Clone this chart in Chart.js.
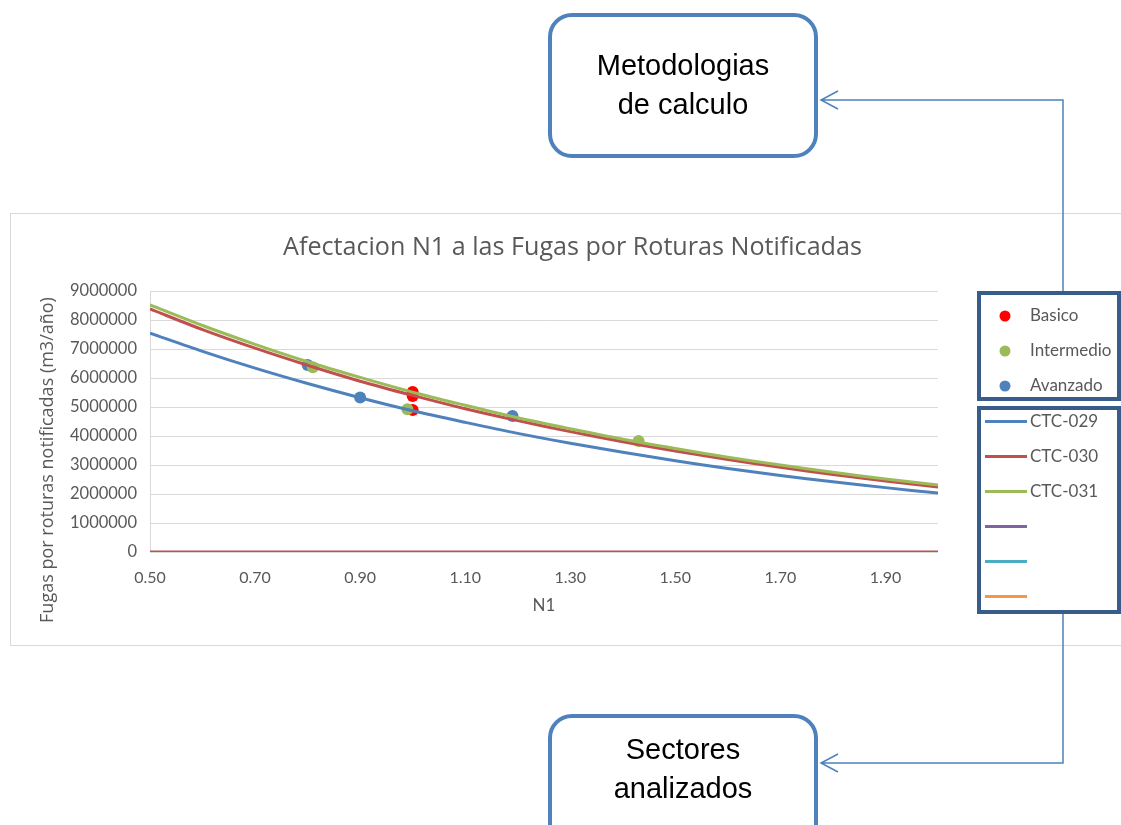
<!DOCTYPE html>
<html lang="es">
<head>
<meta charset="utf-8">
<title>Afectacion N1 a las Fugas por Roturas Notificadas</title>
<script src="https://cdn.jsdelivr.net/npm/chart.js@4.4.1/dist/chart.umd.min.js"></script>
<style>
  html, body { margin: 0; padding: 0; background: #ffffff; }
  #wrap { position: relative; width: 1121px; height: 825px; overflow: hidden; }
  canvas { display: block; }
</style>
</head>
<body>
<div id="wrap"><canvas id="chart" width="1121" height="825"></canvas></div>
<script>
// ---- data -------------------------------------------------------------
const chartTitle = 'Afectacion N1 a las Fugas por Roturas Notificadas';
const xAxisTitle = 'N1';
const yAxisTitle = 'Fugas por roturas notificadas (m3/año)';

// N1 values along which the sector curves are sampled
const n1Grid = [0.5, 0.6, 0.7, 0.8, 0.9, 1.0, 1.1, 1.2, 1.3, 1.4, 1.5, 1.6, 1.7, 1.8, 1.9, 2.0];

// Sector curves (m3/año)
const ctc029 = [7550000, 6920000, 6340000, 5810000, 5320000, 4870000, 4470000, 4090000,
                3750000, 3440000, 3150000, 2880000, 2640000, 2420000, 2220000, 2030000];
const ctc030 = [8380000, 7670000, 7030000, 6440000, 5890000, 5400000, 4940000, 4530000,
                4150000, 3800000, 3480000, 3190000, 2920000, 2670000, 2450000, 2240000];
const ctc031 = [8520000, 7810000, 7160000, 6560000, 6020000, 5510000, 5060000, 4630000,
                4250000, 3890000, 3570000, 3270000, 3000000, 2750000, 2520000, 2310000];

// Zero reference line
const zeroN1 = [0.5, 2.0];
const zeroFugas = [0, 0];

// Calculation methodologies
const basicoN1 = [1.00, 1.00, 1.00];
const basicoFugas = [5520000, 5380000, 4900000];
const intermedioN1 = [0.81, 0.99, 1.43];
const intermedioFugas = [6370000, 4920000, 3830000];
const avanzadoN1 = [0.80, 0.90, 1.19];
const avanzadoFugas = [6450000, 5330000, 4690000];

// Axis ticks
const xTicks = [0.5, 0.7, 0.9, 1.1, 1.3, 1.5, 1.7, 1.9];
const yTicks = [0, 1000000, 2000000, 3000000, 4000000, 5000000, 6000000, 7000000, 8000000, 9000000];

// Callout texts
const calloutTop = ['Metodologias', 'de calculo'];
const calloutBottom = ['Sectores', 'analizados'];

// ---- helpers ----------------------------------------------------------
const pairs = (xs, ys) => xs.map((x, i) => ({ x: x, y: ys[i] }));
const GRAY_TEXT = '#595959';
const FONT = 'Lato, "Open Sans", sans-serif';
const WIDE_FONT = '"Open Sans", Lato, sans-serif';

// pick a font size so that a text spans the given width
function fitFont(ctx, text, family, width) {
  ctx.font = '20px ' + family;
  const size = 20 * width / ctx.measureText(text).width;
  ctx.font = size.toFixed(2) + 'px ' + family;
}

const pointSet = (label, xs, ys, color, order) => ({
  label, data: pairs(xs, ys), showLine: false, legendBox: 1, order,
  pointRadius: 6, pointHoverRadius: 6, pointBackgroundColor: color,
  pointBorderWidth: 0, borderColor: color, backgroundColor: color
});
const lineSet = (label, xs, ys, color, order) => ({
  label, data: pairs(xs, ys), showLine: true, legendBox: 2, order,
  borderColor: color, backgroundColor: color, borderWidth: 3,
  pointRadius: 0, tension: 0.3, fill: false
});

// ---- decorations: frame, title, axis title, legend, callouts ------------
const decor = {
  id: 'decor',
  beforeDraw(chart) {
    const ctx = chart.ctx;
    ctx.save();
    ctx.fillStyle = '#ffffff';
    ctx.fillRect(0, 0, chart.width, chart.height);
    ctx.strokeStyle = '#d9d9d9';
    ctx.lineWidth = 1;
    ctx.strokeRect(10.5, 213.5, 1130, 432);
    ctx.restore();
  },
  afterDraw(chart) {
    const ctx = chart.ctx;
    ctx.save();

    // chart title
    ctx.fillStyle = GRAY_TEXT;
    ctx.textAlign = 'center';
    ctx.textBaseline = 'middle';
    fitFont(ctx, chartTitle, WIDE_FONT, 579);
    ctx.fillText(chartTitle, 572.5, 248);

    // vertical axis title
    ctx.save();
    ctx.translate(48, 460);
    ctx.rotate(-Math.PI / 2);
    fitFont(ctx, yAxisTitle, WIDE_FONT, 326);
    ctx.fillText(yAxisTitle, 0, 0);
    ctx.restore();

    // connectors from legend to callouts
    ctx.strokeStyle = '#4f81bd';
    ctx.lineWidth = 1.5;
    ctx.beginPath();
    ctx.moveTo(1063, 292); ctx.lineTo(1063, 100); ctx.lineTo(821, 100);
    ctx.moveTo(838, 91); ctx.lineTo(821, 100); ctx.lineTo(838, 109);
    ctx.moveTo(1063, 612); ctx.lineTo(1063, 763); ctx.lineTo(821, 763);
    ctx.moveTo(838, 754); ctx.lineTo(821, 763); ctx.lineTo(838, 772);
    ctx.stroke();

    // legend boxes
    ctx.fillStyle = '#ffffff';
    ctx.strokeStyle = '#385d8a';
    ctx.lineWidth = 4;
    [[979, 293, 140, 106], [979, 408, 140, 204]].forEach(b => {
      ctx.fillRect(b[0], b[1], b[2], b[3]);
      ctx.strokeRect(b[0], b[1], b[2], b[3]);
    });

    // legend entries built from the datasets
    ctx.font = '17px ' + FONT;
    ctx.textAlign = 'left';
    ctx.textBaseline = 'middle';
    let p = 0, l = 0;
    chart.data.datasets.forEach(ds => {
      if (ds.legendBox === 1) {
        const y = 316 + p * 35; p++;
        ctx.fillStyle = ds.pointBackgroundColor;
        ctx.beginPath(); ctx.arc(1005, y, 5.5, 0, Math.PI * 2); ctx.fill();
        ctx.fillStyle = GRAY_TEXT;
        ctx.fillText(ds.label, 1030, y);
      } else if (ds.legendBox === 2) {
        const y = 421.5 + l * 35; l++;
        ctx.strokeStyle = ds.borderColor;
        ctx.lineWidth = 3;
        ctx.beginPath(); ctx.moveTo(985, y); ctx.lineTo(1027, y); ctx.stroke();
        ctx.fillStyle = GRAY_TEXT;
        ctx.fillText(ds.label, 1030, y);
      }
    });

    // callout boxes
    const callout = (x, y, w, h, lines, ty) => {
      ctx.fillStyle = '#ffffff';
      ctx.strokeStyle = '#4f81bd';
      ctx.lineWidth = 4;
      ctx.beginPath();
      ctx.roundRect(x, y, w, h, 22);
      ctx.fill(); ctx.stroke();
      ctx.fillStyle = '#000000';
      ctx.font = '29px "Liberation Sans", Arial, sans-serif';
      ctx.textAlign = 'center';
      ctx.textBaseline = 'middle';
      lines.forEach((t, i) => ctx.fillText(t, x + w / 2, ty + i * 39));
    };
    callout(550, 15, 266, 141, calloutTop, 67);
    callout(550, 716, 266, 140, calloutBottom, 751);

    ctx.restore();
  }
};

// ---- chart ------------------------------------------------------------
new Chart(document.getElementById('chart'), {
  type: 'line',
  data: {
    datasets: [
      pointSet('Basico', basicoN1, basicoFugas, '#ff0000', 5),
      pointSet('Intermedio', intermedioN1, intermedioFugas, '#9bbb59', 3),
      pointSet('Avanzado', avanzadoN1, avanzadoFugas, '#4f81bd', 4),
      lineSet('CTC-029', n1Grid, ctc029, '#4f81bd', 2),
      lineSet('CTC-030', n1Grid, ctc030, '#c0504d', 1),
      lineSet('CTC-031', n1Grid, ctc031, '#9bbb59', 0),
      { label: '', data: [], legendBox: 2, order: 6, borderColor: '#8064a2', showLine: true, pointRadius: 0 },
      { label: '', data: [], legendBox: 2, order: 7, borderColor: '#4bacc6', showLine: true, pointRadius: 0 },
      { label: '', data: [], legendBox: 2, order: 8, borderColor: '#f79646', showLine: true, pointRadius: 0 },
      { label: '', data: pairs(zeroN1, zeroFugas), order: 9, showLine: true, borderColor: '#c0504d',
        borderWidth: 3, pointRadius: 0, fill: false }
    ]
  },
  options: {
    responsive: false,
    animation: false,
    devicePixelRatio: 1,
    layout: { padding: { left: 0, top: 291, right: 183, bottom: 209 } },
    plugins: { legend: { display: false }, title: { display: false }, tooltip: { enabled: false } },
    scales: {
      x: {
        type: 'linear', min: 0.5, max: 2.0,
        afterBuildTicks: s => { s.ticks = xTicks.map(v => ({ value: v })); },
        afterFit: s => { s.height = 64; },
        grid: { display: false, drawTicks: false },
        border: { display: false },
        ticks: { padding: 16, color: GRAY_TEXT, font: { family: FONT, size: 16 },
                 callback: v => Number(v).toFixed(2), maxRotation: 0, autoSkip: false },
        title: { display: true, text: xAxisTitle, color: GRAY_TEXT, padding: 0,
                 font: { family: FONT, size: 17 } }
      },
      y: {
        type: 'linear', min: 0, max: 9000000,
        afterBuildTicks: s => { s.ticks = yTicks.map(v => ({ value: v })); },
        afterFit: s => { s.width = 150; },
        grid: { color: '#d9d9d9', lineWidth: 1, drawTicks: false },
        border: { display: true, color: '#d9d9d9', width: 1 },
        ticks: { padding: 13, color: GRAY_TEXT, font: { family: FONT, size: 16.5 },
                 callback: v => String(v) }
      }
    }
  },
  plugins: [decor]
});
</script>
</body>
</html>
